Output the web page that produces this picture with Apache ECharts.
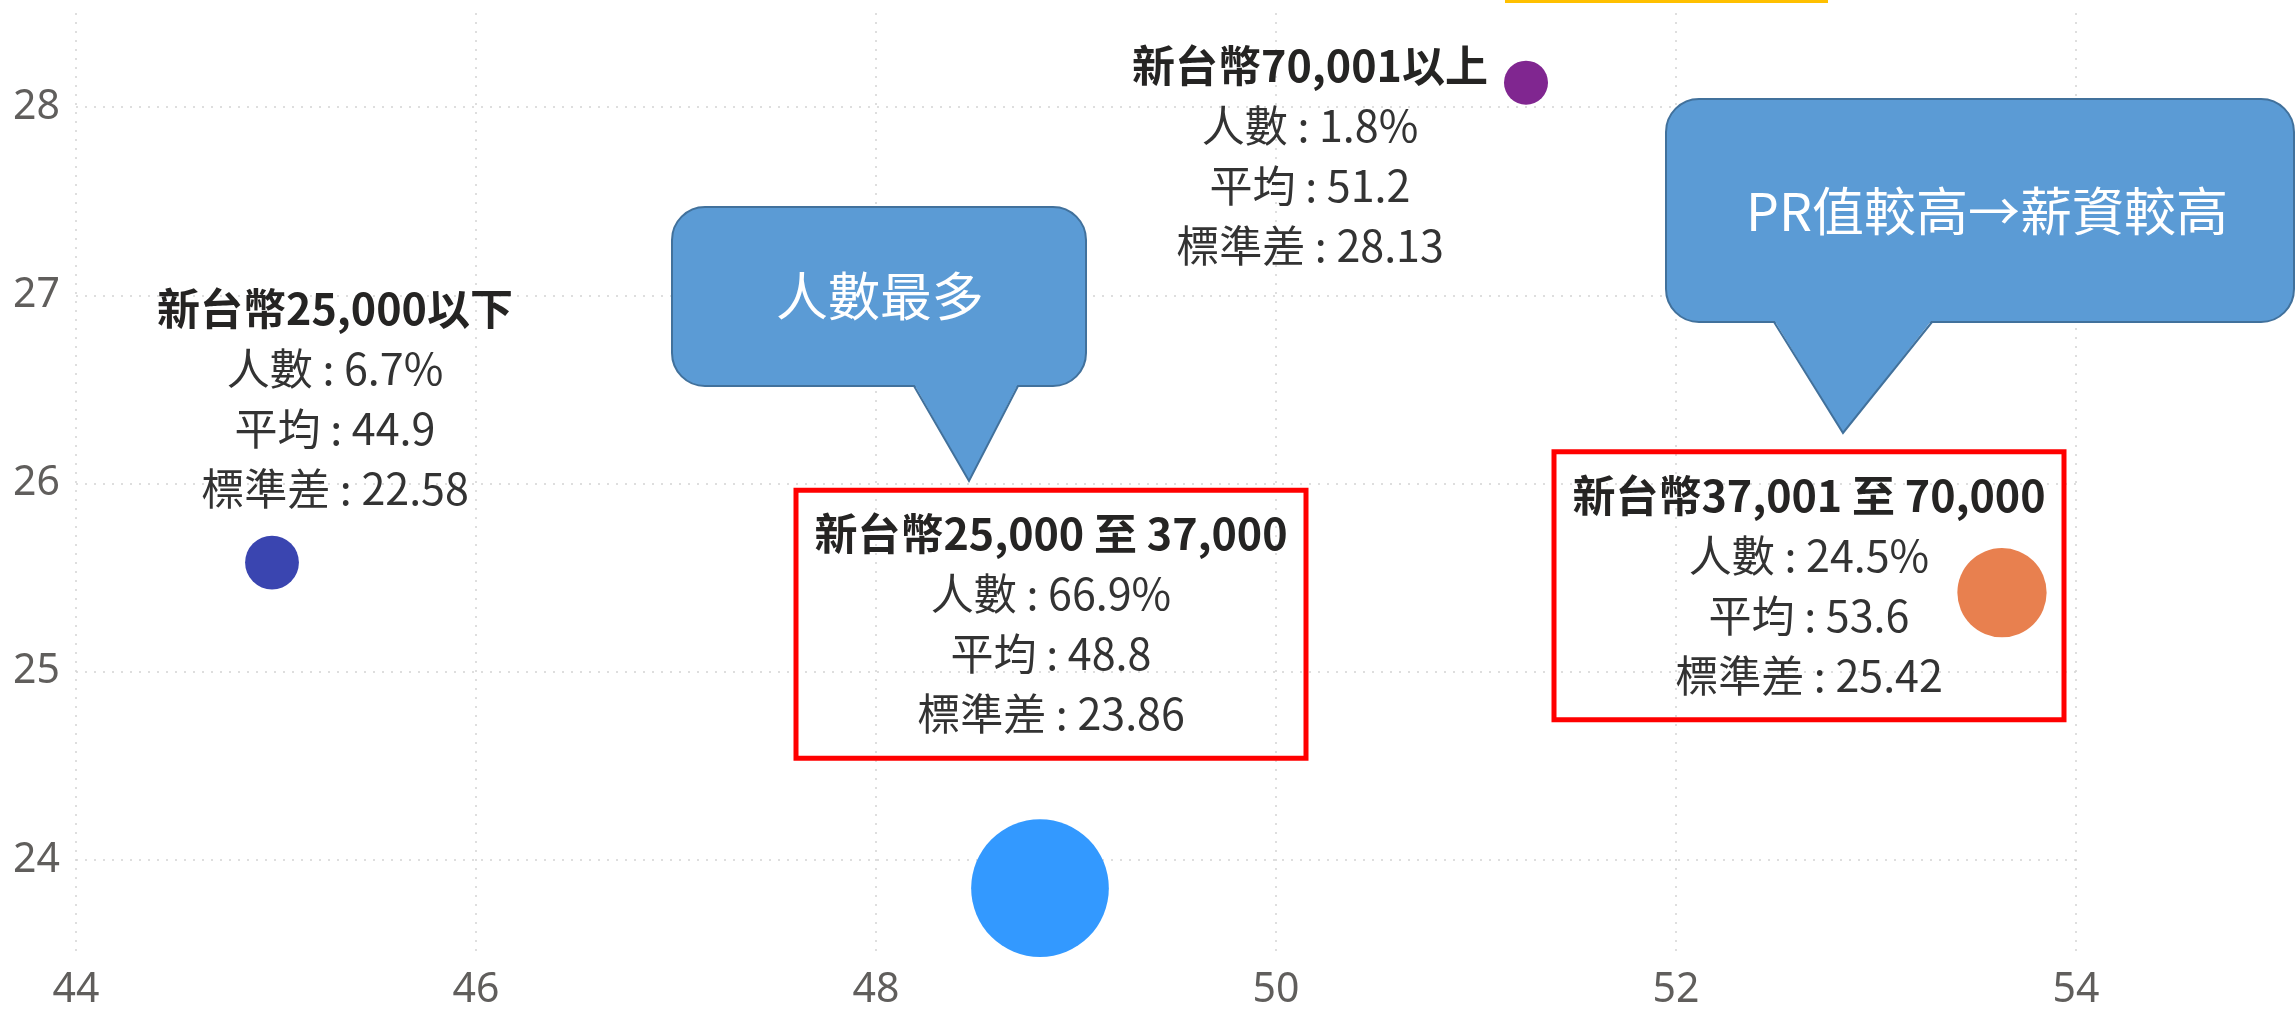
<!DOCTYPE html>
<html><head><meta charset="utf-8">
<script src="https://cdn.jsdelivr.net/npm/echarts@6/dist/echarts.min.js"></script>
<style>html,body{margin:0;padding:0;background:#fff}#c{width:2296px;height:1011px}</style>
</head><body><div id="c"></div>
<script>
// ---- data ----
const groups = ['新台幣25,000以下', '新台幣25,000 至 37,000', '新台幣37,001 至 70,000', '新台幣70,001以上'];
const sharePct = [6.7, 66.9, 24.5, 1.8];          // 人數 %
const meanLabel = ['44.9', '48.8', '53.6', '51.2'];
const stdLabel = ['22.58', '23.86', '25.42', '28.13'];
const xValues = [44.98, 48.82, 53.63, 51.25];      // plotted x (PR 平均)
const yValues = [25.58, 23.85, 25.42, 28.13];      // plotted y (標準差)
const xTicks = [44, 46, 48, 50, 52, 54];
const calloutTexts = ['人數最多', 'PR值較高→薪資較高'];

// ---- styles ----
const colors = ['#3A45B0', '#3399FF', '#E8804F', '#802690'];
const labelOffsets = [[63, -164], [11, -264], [-193, -7], [-216, 73]];
const boxed = [false, true, true, false];
const FONT = '"Noto Sans CJK TC", "Noto Sans", sans-serif';
const CALLFILL = '#5B9BD5', CALLSTROKE = '#41719C';

const chart = echarts.init(document.getElementById('c'), null, {renderer: 'canvas'});

const data = groups.map((g, i) => {
  const lab = {offset: labelOffsets[i]};
  if (boxed[i]) {
    Object.assign(lab, {borderColor: '#FF0000', borderWidth: 5, padding: [14, 16], width: 478});
  }
  return {
    name: g,
    value: [xValues[i], yValues[i], sharePct[i]],
    itemStyle: {color: colors[i]},
    label: lab
  };
});

function callout(x, y, w, h, r, baseL, baseR, tipX, tipY, text, cx, cy) {
  return [
    {type: 'rect', z: 10, shape: {x: x, y: y, width: w, height: h, r: r},
      style: {fill: CALLFILL, stroke: CALLSTROKE, lineWidth: 2}},
    {type: 'polygon', z: 11, shape: {points: [[baseL, y + h - 2], [tipX, tipY], [baseR, y + h - 2]]},
      style: {fill: CALLFILL}},
    {type: 'polyline', z: 12, shape: {points: [[baseL, y + h], [tipX, tipY], [baseR, y + h]]},
      style: {fill: null, stroke: CALLSTROKE, lineWidth: 2}},
    {type: 'text', z: 13, x: cx, y: cy,
      style: {text: text, fill: '#ffffff', font: '52px ' + FONT, align: 'center', verticalAlign: 'middle'}}
  ];
}

chart.setOption({
  animation: false,
  backgroundColor: '#ffffff',
  grid: {left: 76, right: 220, top: 13, bottom: 56},
  xAxis: {
    type: 'value', min: xTicks[0], max: xTicks[xTicks.length - 1], interval: 2,
    axisLine: {show: false}, axisTick: {show: false},
    axisLabel: {fontSize: 41, color: '#605E5C', fontFamily: '"Noto Sans", sans-serif', margin: 16},
    splitLine: {show: true, lineStyle: {color: '#d4d4d4', width: 1.5, type: [2, 7]}}
  },
  yAxis: {
    type: 'value', min: 23.5, max: 28.5, splitNumber: 5,
    axisLine: {show: false}, axisTick: {show: false},
    axisLabel: {fontSize: 41, color: '#605E5C', fontFamily: '"Noto Sans", sans-serif', margin: 16,
      showMinLabel: false, showMaxLabel: false},
    splitLine: {show: true, showMinLine: false, showMaxLine: false,
      lineStyle: {color: '#d4d4d4', width: 1.5, type: [2, 7]}}
  },
  series: [{
    type: 'scatter',
    data: data,
    symbolSize: v => Math.max(44, 15 + 15 * Math.sqrt(v[2])),
    itemStyle: {opacity: 1},
    label: {
      show: true,
      position: 'inside',
      align: 'center',
      verticalAlign: 'middle',
      fontFamily: FONT,
      formatter: p => {
        const i = p.dataIndex;
        return '{t|' + groups[i] + '}\n{b|人數 : ' + sharePct[i] + '%}\n{b|平均 : ' + meanLabel[i] + '}\n{b|標準差 : ' + stdLabel[i] + '}';
      },
      rich: {
        t: {fontSize: 43, fontWeight: 'bold', color: '#252423', lineHeight: 60, align: 'center', fontFamily: FONT},
        b: {fontSize: 43, color: '#333333', lineHeight: 60, align: 'center', fontFamily: FONT}
      }
    },
    z: 2
  }],
  graphic: [
    {type: 'rect', shape: {x: 1505, y: 0, width: 323, height: 3}, style: {fill: '#FFC000'}, z: 10}
  ].concat(
    callout(672, 207, 414, 179, 33, 914, 1018, 969, 481, calloutTexts[0], 880, 296),
    callout(1666, 99, 628, 223, 33, 1774, 1932, 1843, 433, calloutTexts[1], 1987, 211)
  )
});
</script>
</body></html>
